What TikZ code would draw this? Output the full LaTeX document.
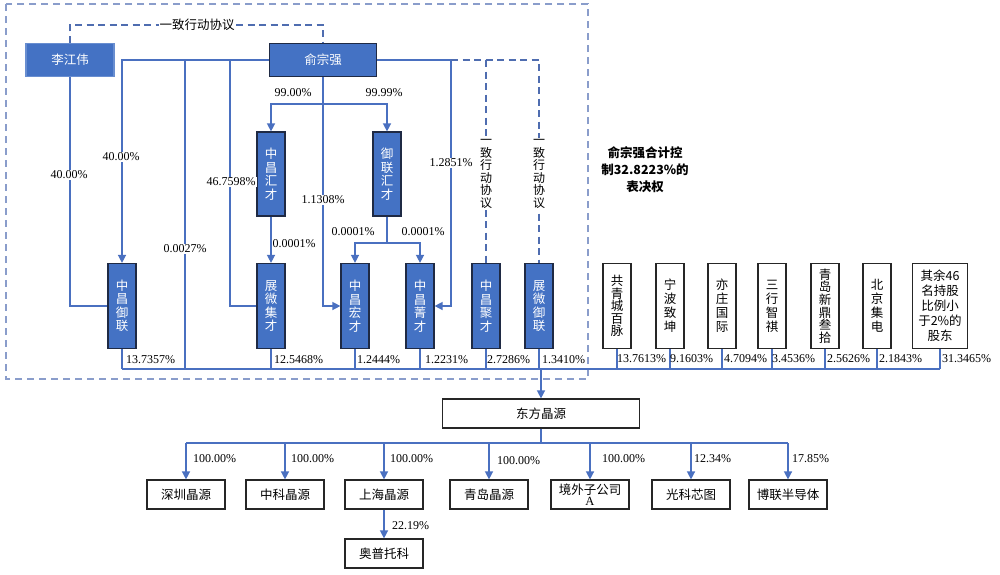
\documentclass[tikz,border=0pt]{standalone}
\usepackage{fontspec}
\setmainfont{Liberation Serif}
\newfontfamily\cjk{Noto Sans CJK SC}
\usetikzlibrary{arrows.meta}
\definecolor{boxblue}{HTML}{4472C4}
\definecolor{boxedge}{HTML}{1F2A44}
\definecolor{lineblue}{HTML}{4A70C0}
\definecolor{dashblue}{HTML}{4F6DB0}
\definecolor{outerdash}{HTML}{8A9DCB}
\tikzset{
  bluebox/.style={fill=boxblue, draw=boxedge, line width=1.2pt, text=white, inner sep=0pt,
    minimum width=28pt, minimum height=85pt, align=center,
    font={\cjk\fontsize{12.5}{13.5}\selectfont}},
  topbox/.style={fill=boxblue, draw=boxblue!80, line width=1.2pt, text=white, inner sep=0pt,
    minimum width=88pt, minimum height=33pt, font={\cjk\fontsize{12.5}{14}\selectfont}},
  whitebox/.style={fill=white, draw=black!85, line width=1.2pt, text=black, inner sep=0pt,
    minimum width=28pt, minimum height=85pt, align=center,
    font={\cjk\fontsize{12.5}{14}\selectfont}},
  subbox/.style={fill=white, draw=black!85, line width=1.2pt, text=black, inner sep=0pt,
    minimum width=78pt, minimum height=29pt, align=center,
    font={\cjk\fontsize{12.5}{14}\selectfont}},
  conn/.style={draw=lineblue, line width=1.4pt},
  arr/.style={conn, -{Triangle[length=8pt,width=8pt]}},
  agree/.style={draw=dashblue, line width=1.4pt, dash pattern=on 7pt off 4.5pt},
  outer/.style={draw=outerdash, line width=1.4pt, dash pattern=on 7pt off 5pt},
  pct/.style={font={\fontsize{12}{14}\selectfont}, inner sep=1pt, text=black},
  pctw/.style={pct, fill=white},
  vlabel/.style={fill=white, inner sep=1pt, align=center, text=black,
    font={\cjk\fontsize{12}{12.6}\selectfont}},
}
\begin{document}
\begin{tikzpicture}[x=1pt,y=-1pt]
\useasboundingbox (0,0) rectangle (1000,574);
\fill[white] (0,0) rectangle (1000,574);

% outer dashed frame
\draw[outer] (6,4) rectangle (588,379);

% top persons
\node[topbox] (LJW) at (70,60) {李江伟};
\node[topbox, minimum width=107pt, draw=boxedge] (YZQ) at (323,60) {俞宗强};

% middle holding vehicles
\node[bluebox, minimum height=84pt] (ZCHC) at (271,174) {中\\昌\\汇\\才};
\node[bluebox, minimum height=84pt] (YLHC) at (387,174) {御\\联\\汇\\才};

\node[bluebox] (ZCYL) at (122,306) {中\\昌\\御\\联};
\node[bluebox] (ZWJC) at (271,306) {展\\微\\集\\才};
\node[bluebox] (ZCHG) at (355,306) {中\\昌\\宏\\才};
\node[bluebox] (ZCJQ) at (420,306) {中\\昌\\菁\\才};
\node[bluebox] (ZCJU) at (486,306) {中\\昌\\聚\\才};
\node[bluebox] (ZWYL) at (539,306) {展\\微\\御\\联};

% other shareholders
\node[whitebox, font={\cjk\fontsize{12.5}{12.6}\selectfont}] (GQC) at (617,306) {共\\青\\城\\百\\脉};
\node[whitebox] (NBZK) at (670,306) {宁\\波\\致\\坤};
\node[whitebox] (YZGJ) at (722,306) {亦\\庄\\国\\际};
\node[whitebox] (SXZQ) at (772,306) {三\\行\\智\\祺};
\node[whitebox, font={\cjk\fontsize{12.5}{12.6}\selectfont}] (QDXD) at (825,306) {青\\岛\\新\\鼎\\叁\\拾};
\node[whitebox] (BJJD) at (877,306) {北\\京\\集\\电};
\node[whitebox, minimum width=55pt, font={\cjk\fontsize{12.5}{15}\selectfont}] (QY) at (940,306) {其余46\\名持股\\比例小\\于2\%的\\股东};

% company
\node[subbox, minimum width=197pt] (DFJY) at (541,413.5) {东方晶源};
\node[subbox] (SZ) at (186,494.5) {深圳晶源};
\node[subbox] (ZK) at (285,494.5) {中科晶源};
\node[subbox] (SH) at (384,494.5) {上海晶源};
\node[subbox] (QD) at (489,494.5) {青岛晶源};
\node[subbox, font={\cjk\fontsize{12.5}{14}\selectfont}] (JW) at (590,494.5) {境外子公司\\[-3pt]{\rmfamily A}};
\node[subbox] (GK) at (691,494.5) {光科芯图};
\node[subbox] (BL) at (788,494.5) {博联半导体};
\node[subbox] (APTK) at (384,553.5) {奥普托科};

% control note
\node[align=center, font={\cjk\bfseries\fontsize{12.5}{17}\selectfont}] (NOTE) at (645,170) {俞宗强合计控\\制32.8223\%的\\表决权};

% coordinates
\coordinate (bus) at (541,369);
\coordinate (v185) at (185,60);
\coordinate (v230) at (230,60);
\coordinate (j99) at (323,104);
\coordinate (v451) at (451,60);
\coordinate (v486) at (486,60);
\coordinate (v539) at (539,60);
\coordinate (j2) at (387,243);
\coordinate (b2) at (541,443);
\coordinate (tagree) at (70,25);

% agreement dashed line between the two persons
\draw[agree] (LJW.north) -- (tagree) -| (YZQ.north);
\node[fill=white, inner sep=1pt, font={\cjk\fontsize{12.5}{14}\selectfont}] (AGR) at (197,25) {一致行动协议};

% from 李江伟
\draw[conn] (LJW.south) |- (ZCYL.west);

% from 俞宗强 leftwards
\draw[arr] (YZQ.west) -| (ZCYL.north);
\draw[conn] (v185) -- (v185 |- bus);
\draw[conn] (v230) |- (ZWJC.west);

% from 俞宗强 downwards
\draw[arr] (YZQ.south) |- (ZCHG.west);
\draw[arr] (j99) -| (ZCHC.north);
\draw[arr] (j99) -| (YLHC.north);

% from 俞宗强 rightwards
\draw[conn] (YZQ.east) -- (v451);
\draw[arr] (v451) |- (ZCJQ.east);
\draw[agree] (v451) -- (v539) -- (ZWYL.north);
\draw[agree] (v486) -- (ZCJU.north);
\node[vlabel] (AG1) at (486,174) {一\\致\\行\\动\\协\\议};
\node[vlabel] (AG2) at (539,174) {一\\致\\行\\动\\协\\议};

% between vehicles
\draw[arr] (ZCHC) -- (ZWJC);
\draw[conn] (YLHC.south) -- (j2);
\draw[arr] (j2) -| (ZCHG.north);
\draw[arr] (j2) -| (ZCJQ.north);

% bus to 东方晶源
\draw[conn] (ZCYL.south |- bus) -- (QY.south |- bus);
\foreach \n in {ZCYL,ZWJC,ZCHG,ZCJQ,ZCJU,ZWYL,GQC,NBZK,YZGJ,SXZQ,QDXD,BJJD,QY}
  \draw[conn] (\n.south) -- (\n.south |- bus);
\draw[arr] (bus) -- (DFJY.north);

% subsidiaries
\draw[conn] (DFJY.south) -- (b2);
\draw[conn] (SZ.north |- b2) -- (BL.north |- b2);
\foreach \n in {SZ,ZK,SH,QD,JW,GK,BL}
  \draw[arr] (\n.north |- b2) -- (\n.north);
\draw[arr] (SH) -- (APTK);

% percentage labels (upper part)
\node[pctw] (p1) at (69,175) {40.00\%};
\node[pctw] (p2) at (121,157) {40.00\%};
\node[pctw] (p3) at (231,182) {46.7598\%};
\node[pctw] (p4) at (185,249) {0.0027\%};
\node[pctw] (p5) at (323,200) {1.1308\%};
\node[pctw] (p6) at (451,163) {1.2851\%};
\node[pct] (p7) at (293,93) {99.00\%};
\node[pct] (p8) at (384,93) {99.99\%};
\node[pct] (p9) at (294,244) {0.0001\%};
\node[pct] (p10) at (353,232) {0.0001\%};
\node[pct] (p11) at (423,232) {0.0001\%};

% percentage labels near bus
\node[pct, anchor=west] at (125,360) {13.7357\%};
\node[pct, anchor=west] at (273,360) {12.5468\%};
\node[pct, anchor=west] at (356,360) {1.2444\%};
\node[pct, anchor=west] at (424,360) {1.2231\%};
\node[pct, anchor=west] at (486,360) {2.7286\%};
\node[pct, anchor=west] at (541,360) {1.3410\%};
\node[pct, anchor=west] at (616,359) {13.7613\%};
\node[pct, anchor=west] at (669,359) {9.1603\%};
\node[pct, anchor=west] at (723,359) {4.7094\%};
\node[pct, anchor=west] at (771,359) {3.4536\%};
\node[pct, anchor=west] at (826,359) {2.5626\%};
\node[pct, anchor=west] at (878,359) {2.1843\%};
\node[pct, anchor=west] at (941,359) {31.3465\%};

% percentage labels (subsidiaries)
\node[pct, anchor=west] at (192,459) {100.00\%};
\node[pct, anchor=west] at (290,459) {100.00\%};
\node[pct, anchor=west] at (389,459) {100.00\%};
\node[pct, anchor=west] at (496,461) {100.00\%};
\node[pct, anchor=west] at (601,459) {100.00\%};
\node[pct, anchor=west] at (693,459) {12.34\%};
\node[pct, anchor=west] at (791,459) {17.85\%};
\node[pct, anchor=west] at (391,526) {22.19\%};
\end{tikzpicture}
\end{document}
